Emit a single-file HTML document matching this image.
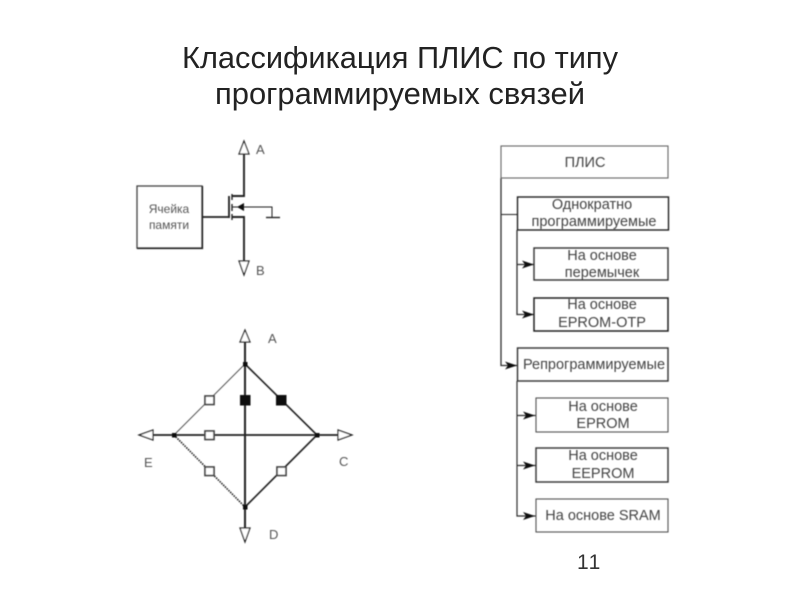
<!DOCTYPE html>
<html lang="ru"><head><meta charset="utf-8"><title>Классификация ПЛИС</title>
<style>html,body{margin:0;padding:0;background:#fff;width:800px;height:600px;overflow:hidden}svg{display:block}text{font-family:"Liberation Sans",sans-serif}</style></head>
<body>
<svg width="800" height="600" viewBox="0 0 800 600" xmlns="http://www.w3.org/2000/svg">
<defs>
<path id="ah" d="M-12,-4 L0,0 L-12,4 L-9,0 Z" fill="#111"/>
<filter id="b" x="-5%" y="-5%" width="110%" height="110%"><feGaussianBlur stdDeviation="0.45"/></filter>
</defs>
<g fill="#222">
<text x="400" y="68" font-size="31" text-anchor="middle" textLength="436" lengthAdjust="spacingAndGlyphs">Классификация ПЛИС по типу</text>
<text x="400" y="104" font-size="31" text-anchor="middle" textLength="370" lengthAdjust="spacingAndGlyphs">программируемых связей</text>
<text x="577" y="569" font-size="21" fill="#333" style="font-kerning:none">11</text>
</g>
<g filter="url(#b)">
<!-- transistor -->
<g fill="none" stroke="#222">
<rect x="137" y="186" width="65" height="62" stroke="#444" stroke-width="1.3"/>
<path d="M137 248.500H202.500V186" stroke="#222" stroke-width="1.3"/>
<path d="M202 217H229M229 196V218" stroke-width="1.8"/>
<path d="M232 194V200M232 204V211M232 214V220" stroke-width="1.4"/>
<path d="M232 196H244V153M232 217H244V261" stroke-width="1.9"/>
<path d="M232 207H272V217" stroke-width="1"/>
<path d="M266 217.500H280" stroke-width="1.4"/>
<path d="M244 141L239 154H249Z" fill="#fff" stroke-width="1.2"/>
<path d="M244 275L239 261H249Z" fill="#fff" stroke-width="1.2"/>
</g>
<path d="M237 207L244 203V211Z" fill="#111"/>
<g font-size="12" fill="#555" text-anchor="middle">
<text x="169" y="213">Ячейка</text>
<text x="169" y="229">памяти</text>
</g>
<g font-size="13" fill="#555">
<text x="256" y="154">А</text>
<text x="256" y="275">В</text>
<text x="268" y="343">А</text>
<text x="144" y="467">Е</text>
<text x="339" y="466">С</text>
<text x="269" y="539">D</text>
</g>
<!-- diamond -->
<g fill="none" stroke="#222">
<path d="M245 342V528" stroke-width="2"/>
<path d="M153 435H338" stroke-width="1.8"/>
<path d="M245 364L317 435L245 507" stroke-width="1.6"/>
<path d="M245 364L174 435" stroke="#555" stroke-width="1"/>
<path d="M174 435L245 507" stroke-width="1.6" stroke-dasharray="1.5 1"/>
<path d="M245 330L240 342H250Z" fill="#fff" stroke-width="1.2"/>
<path d="M245 542L240 528H250Z" fill="#fff" stroke-width="1.2"/>
<path d="M139 435L153 430V440Z" fill="#fff" stroke-width="1.2"/>
<path d="M352 435L338 430V440Z" fill="#fff" stroke-width="1.2"/>
</g>
<g fill="#111">
<rect x="243" y="362" width="4.500" height="4.500"/>
<rect x="243" y="505" width="4.500" height="4.500"/>
<rect x="172" y="433" width="4.500" height="4.500"/>
<rect x="315" y="433" width="4.500" height="4.500"/>
<rect x="240" y="395" width="10.500" height="10.500"/>
<rect x="276" y="395" width="10.500" height="10.500"/>
</g>
<g fill="#fff" stroke="#444" stroke-width="1.7">
<rect x="205" y="396" width="9" height="8.500"/>
<rect x="205" y="431" width="9" height="8.500"/>
<rect x="205" y="467" width="9" height="8.500"/>
<rect x="277" y="467" width="9" height="8.500"/>
</g>
<!-- tree -->
<g fill="none" stroke="#333">
<path d="M501 178V365.500H517" stroke-width="1.3"/>
<path d="M501 214.500H517" stroke-width="1.1"/>
<path d="M517 230V314.500H534M517 264.500H534" stroke-width="1.3"/>
<path d="M517 381V516H536M517 415.500H536M517 465.500H536" stroke-width="1.2"/>
<rect x="501" y="146" width="167" height="32" stroke="#666" stroke-width="1.1"/>
<rect x="517.500" y="197" width="151" height="33" stroke="#222" stroke-width="1.4"/>
<rect x="534" y="248" width="134" height="32" stroke-width="1.4"/>
<rect x="534" y="298" width="134" height="33" stroke="#222" stroke-width="1.5"/>
<rect x="517.500" y="348" width="150.500" height="33" stroke-width="1.4"/>
<rect x="536" y="398" width="132" height="34" stroke="#555" stroke-width="1.1"/>
<rect x="536" y="448" width="132" height="34" stroke="#333" stroke-width="1.4"/>
<rect x="536" y="499" width="132" height="33" stroke="#555" stroke-width="1.1"/>
</g>
<use href="#ah" x="534" y="264.500"/>
<use href="#ah" x="534" y="314.500"/>
<use href="#ah" x="517" y="365.500"/>
<use href="#ah" x="535" y="415.500"/>
<use href="#ah" x="535" y="465.500"/>
<use href="#ah" x="535" y="516"/>
<g font-size="14.500" fill="#444" text-anchor="middle">
<text x="585" y="167">ПЛИС</text>
<text x="592" y="209">Однократно</text>
<text x="594" y="226">программируемые</text>
<text x="602" y="260">На основе</text>
<text x="602" y="277">перемычек</text>
<text x="602" y="309">На основе</text>
<text x="602" y="327">EPROM-OTP</text>
<text x="594" y="369">Репрограммируемые</text>
<text x="603" y="411">На основе</text>
<text x="603" y="428">EPROM</text>
<text x="603" y="460">На основе</text>
<text x="603" y="478">EEPROM</text>
<text x="603" y="520">На основе SRAM</text>
</g>
</g>
</svg>
</body></html>
